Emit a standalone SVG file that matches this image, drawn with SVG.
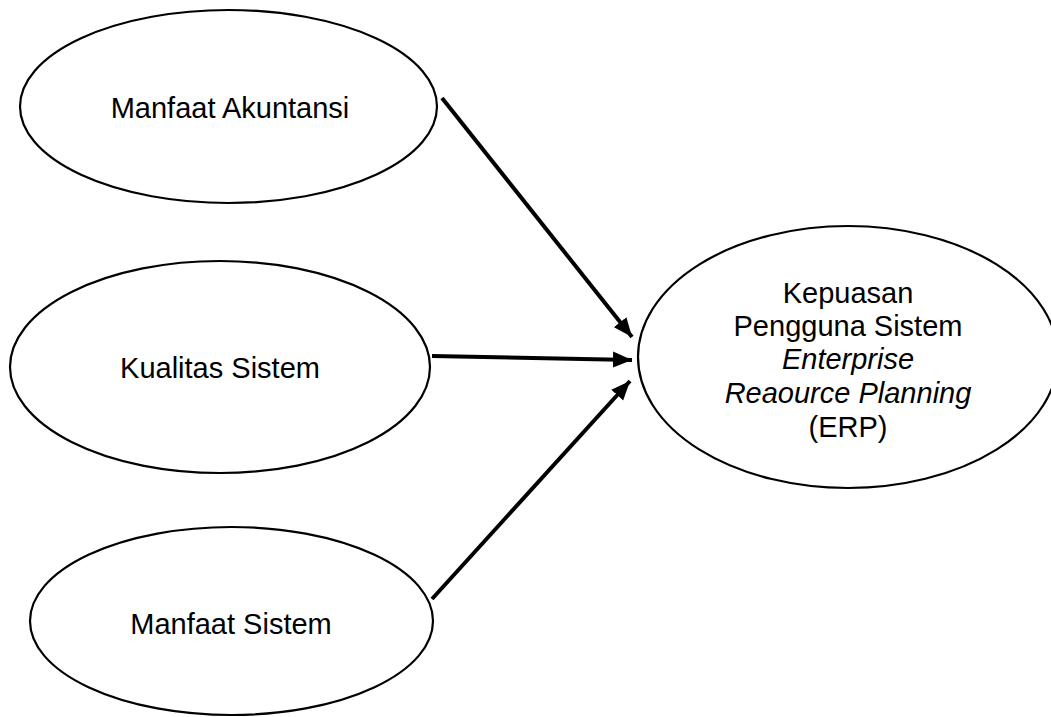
<svg xmlns="http://www.w3.org/2000/svg" width="1051" height="717" viewBox="0 0 1051 717">
<style>
.node ellipse{fill:#fff;stroke:#000;stroke-width:2.2}
text{font-family:"Liberation Sans",Arial,sans-serif;font-size:29px;fill:#000;text-anchor:middle}
.it{font-style:italic}
.conn line{stroke:#000;stroke-width:4}
</style>
<defs>
<marker id="ah" markerUnits="userSpaceOnUse" markerWidth="20" markerHeight="17" refX="19" refY="8" orient="auto" viewBox="0 0 20 16">
<path d="M0,0 L19,8 L0,16 Z" fill="#000"/>
</marker>
</defs>
<rect width="1051" height="717" fill="#fff"/>
<g id="n1" class="node">
<ellipse cx="228.5" cy="106.5" rx="208.5" ry="96.5"/>
<text x="230" y="118">Manfaat Akuntansi</text>
</g>
<g id="n2" class="node">
<ellipse cx="220" cy="367" rx="210" ry="106"/>
<text x="220" y="378">Kualitas Sistem</text>
</g>
<g id="n3" class="node">
<ellipse cx="231.5" cy="621" rx="201.5" ry="94"/>
<text x="231" y="634">Manfaat Sistem</text>
</g>
<g id="n4" class="node">
<ellipse cx="848" cy="357" rx="210" ry="131"/>
<text x="848" y="303">Kepuasan</text>
<text x="848" y="336">Pengguna Sistem</text>
<text x="848" y="369" class="it">Enterprise</text>
<text x="848" y="403"><tspan class="it">Reaource Planning</tspan></text>
<text x="848" y="437">(ERP)</text>
</g>
<g id="connectors" class="conn">
<line x1="442" y1="98" x2="632" y2="337" marker-end="url(#ah)"/>
<line x1="432" y1="356" x2="632" y2="360" marker-end="url(#ah)"/>
<line x1="432" y1="599" x2="630" y2="381" marker-end="url(#ah)"/>
</g>
</svg>
